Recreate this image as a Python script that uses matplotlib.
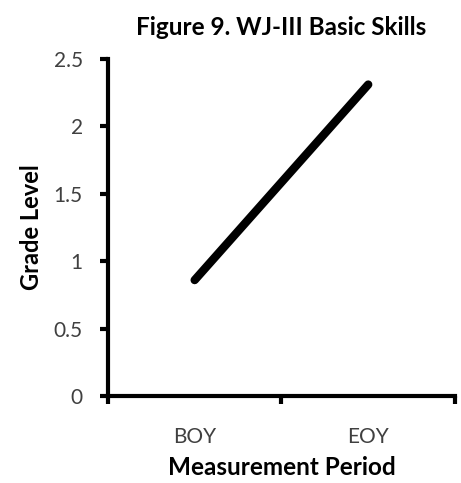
import matplotlib
matplotlib.use('Agg')
import matplotlib.pyplot as plt

# data
periods = ['BOY', 'EOY']
grade_level = [0.86, 2.31]
y_ticks = [0, 0.5, 1, 1.5, 2, 2.5]

plt.rcParams['font.family'] = ['Lato', 'DejaVu Sans']

fig = plt.figure(figsize=(4.61, 4.83), dpi=100)
ax = fig.add_axes([0.234, 0.180, 0.753, 0.698])

x = [0.5, 1.5]
ax.plot(x, grade_level, color='black', linewidth=6, solid_capstyle='round')

ax.set_xlim(0, 2)
ax.set_ylim(0, 2.5)
ax.set_yticks(y_ticks)
ax.set_yticklabels(['0', '0.5', '1', '1.5', '2', '2.5'])

# category ticks between the groups, labels centered
ax.set_xticks([0, 1, 2])
ax.set_xticklabels([])
ax.set_xticks(x, minor=True)
ax.set_xticklabels(periods, minor=True)
ax.tick_params(axis='x', which='minor', length=0, pad=22, labelsize=15, labelcolor='#404040')
ax.tick_params(axis='x', which='major', length=6, width=3, direction='out')
ax.tick_params(axis='y', length=6, width=3, direction='out', pad=12,
               labelsize=15, labelcolor='#404040')

for side in ['top', 'right']:
    ax.spines[side].set_visible(False)
for side in ['left', 'bottom']:
    ax.spines[side].set_linewidth(3)

ax.set_title('Figure 9. WJ-III Basic Skills', fontsize=17.5, fontweight='bold', pad=17)
ax.set_xlabel('Measurement Period', fontsize=17.5, fontweight='bold', labelpad=7)
ax.set_ylabel('Grade Level', fontsize=17, fontweight='bold', labelpad=8)

plt.savefig('out.png', dpi=100)
